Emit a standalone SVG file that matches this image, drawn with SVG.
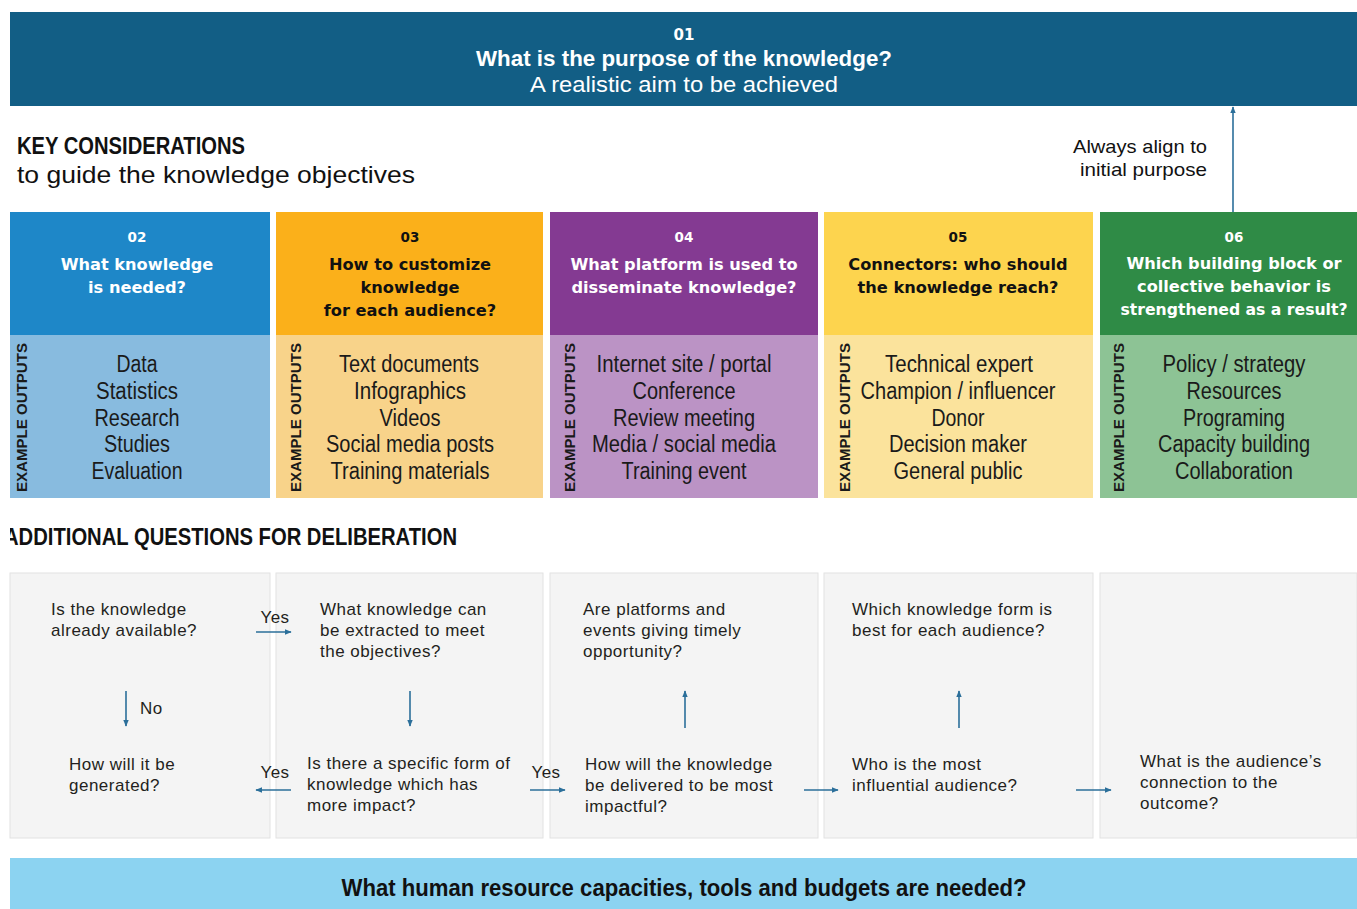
<svg xmlns="http://www.w3.org/2000/svg" width="1357" height="909" viewBox="0 0 1357 909">
<style>
.bg{fill:#ffffff}
.hdr{font-family:"DejaVu Sans","Liberation Sans",sans-serif;font-weight:bold;font-size:16.2px;text-anchor:middle}
.num{font-family:"DejaVu Sans","Liberation Sans",sans-serif;font-weight:bold;font-size:13.5px;text-anchor:middle}
.item{font-family:"Liberation Sans",sans-serif;font-size:23px;text-anchor:middle;fill:#1a1a1a}
.ex{font-family:"Liberation Sans",sans-serif;font-weight:bold;font-size:15px;fill:#1a1a1a}
.q{font-family:"Liberation Sans",sans-serif;font-size:17px;letter-spacing:0.5px;fill:#231f20}
.cond{font-family:"Liberation Sans",sans-serif;fill:#111}
.w{fill:#ffffff}
.k{fill:#111111}
.panel{fill:#f4f4f4;stroke:#e2e2e2;stroke-width:1}
.conn{stroke:#2b6f9a;stroke-width:1.6;fill:none;marker-end:url(#ah)}
</style>
<defs>
<marker id="ah" viewBox="0 0 10 10" refX="9" refY="5" markerWidth="7" markerHeight="7" orient="auto" markerUnits="userSpaceOnUse">
<path d="M0,1 L10,5 L0,9 z" fill="#2b6f9a"/>
</marker>
<clipPath id="clipAdd"><rect x="10" y="500" width="1347" height="60"/></clipPath>
</defs>
<rect class="bg" x="0" y="0" width="1357" height="909"/>

<g id="n01">
<rect x="10" y="12" width="1347" height="94" fill="#125e85"/>
<text x="684" y="40" class="num w" style="font-size:15px">01</text>
<text x="684" y="66" class="cond w" font-weight="bold" font-size="22" text-anchor="middle" textLength="416" lengthAdjust="spacingAndGlyphs">What is the purpose of the knowledge?</text>
<text x="684" y="92" class="cond w" font-size="22" text-anchor="middle" textLength="308" lengthAdjust="spacingAndGlyphs">A realistic aim to be achieved</text>
</g>

<g id="keyConsiderations">
<text x="17" y="154" class="cond" font-weight="bold" font-size="24" textLength="228" lengthAdjust="spacingAndGlyphs">KEY CONSIDERATIONS</text>
<text x="17" y="183" class="cond" font-size="24" textLength="398" lengthAdjust="spacingAndGlyphs">to guide the knowledge objectives</text>
</g>

<g id="alignLabel">
<text x="1207" y="153" class="cond" font-size="18.5" text-anchor="end" textLength="134" lengthAdjust="spacingAndGlyphs">Always align to</text>
<text x="1207" y="176" class="cond" font-size="18.5" text-anchor="end" textLength="127" lengthAdjust="spacingAndGlyphs">initial purpose</text>
</g>

<g id="n02">
<rect x="10" y="212" width="260" height="123" fill="#1e87c8"/>
<rect x="10" y="335" width="260" height="163" fill="#88bbdf"/>
<text x="137" y="242" class="num w">02</text>
<text x="137" y="270" class="hdr w">What knowledge</text>
<text x="137" y="293" class="hdr w">is needed?</text>
<text class="ex" transform="translate(27,492) rotate(-90)" textLength="149" lengthAdjust="spacingAndGlyphs">EXAMPLE OUTPUTS</text>
<text x="137" y="372" class="item" textLength="41" lengthAdjust="spacingAndGlyphs">Data</text>
<text x="137" y="399" class="item" textLength="82" lengthAdjust="spacingAndGlyphs">Statistics</text>
<text x="137" y="426" class="item" textLength="85" lengthAdjust="spacingAndGlyphs">Research</text>
<text x="137" y="452" class="item" textLength="66" lengthAdjust="spacingAndGlyphs">Studies</text>
<text x="137" y="479" class="item" textLength="91" lengthAdjust="spacingAndGlyphs">Evaluation</text>
</g>

<g id="n03">
<rect x="276" y="212" width="267" height="123" fill="#fbb01a"/>
<rect x="276" y="335" width="267" height="163" fill="#f8d38a"/>
<text x="410" y="242" class="num k">03</text>
<text x="410" y="270" class="hdr k">How to customize</text>
<text x="410" y="293" class="hdr k">knowledge</text>
<text x="410" y="316" class="hdr k">for each audience?</text>
<text class="ex" transform="translate(301,492) rotate(-90)" textLength="149" lengthAdjust="spacingAndGlyphs">EXAMPLE OUTPUTS</text>
<text x="409" y="372" class="item" textLength="140" lengthAdjust="spacingAndGlyphs">Text documents</text>
<text x="410" y="399" class="item" textLength="112" lengthAdjust="spacingAndGlyphs">Infographics</text>
<text x="410" y="426" class="item" textLength="61" lengthAdjust="spacingAndGlyphs">Videos</text>
<text x="410" y="452" class="item" textLength="168" lengthAdjust="spacingAndGlyphs">Social media posts</text>
<text x="410" y="479" class="item" textLength="159" lengthAdjust="spacingAndGlyphs">Training materials</text>
</g>

<g id="n04">
<rect x="550" y="212" width="268" height="123" fill="#843a92"/>
<rect x="550" y="335" width="268" height="163" fill="#bb93c5"/>
<text x="684" y="242" class="num w">04</text>
<text x="684" y="270" class="hdr w">What platform is used to</text>
<text x="684" y="293" class="hdr w">disseminate knowledge?</text>
<text class="ex" transform="translate(575,492) rotate(-90)" textLength="149" lengthAdjust="spacingAndGlyphs">EXAMPLE OUTPUTS</text>
<text x="684" y="372" class="item" textLength="175" lengthAdjust="spacingAndGlyphs">Internet site / portal</text>
<text x="684" y="399" class="item" textLength="103" lengthAdjust="spacingAndGlyphs">Conference</text>
<text x="684" y="426" class="item" textLength="142" lengthAdjust="spacingAndGlyphs">Review meeting</text>
<text x="684" y="452" class="item" textLength="184" lengthAdjust="spacingAndGlyphs">Media / social media</text>
<text x="684" y="479" class="item" textLength="125" lengthAdjust="spacingAndGlyphs">Training event</text>
</g>

<g id="n05">
<rect x="824" y="212" width="269" height="123" fill="#fdd44e"/>
<rect x="824" y="335" width="269" height="163" fill="#fbe39c"/>
<text x="958" y="242" class="num k">05</text>
<text x="958" y="270" class="hdr k">Connectors: who should</text>
<text x="958" y="293" class="hdr k">the knowledge reach?</text>
<text class="ex" transform="translate(850,492) rotate(-90)" textLength="149" lengthAdjust="spacingAndGlyphs">EXAMPLE OUTPUTS</text>
<text x="959" y="372" class="item" textLength="148" lengthAdjust="spacingAndGlyphs">Technical expert</text>
<text x="958" y="399" class="item" textLength="195" lengthAdjust="spacingAndGlyphs">Champion / influencer</text>
<text x="958" y="426" class="item" textLength="53" lengthAdjust="spacingAndGlyphs">Donor</text>
<text x="958" y="452" class="item" textLength="138" lengthAdjust="spacingAndGlyphs">Decision maker</text>
<text x="958" y="479" class="item" textLength="129" lengthAdjust="spacingAndGlyphs">General public</text>
</g>

<g id="n06">
<rect x="1100" y="212" width="257" height="123" fill="#2f8b46"/>
<rect x="1100" y="335" width="257" height="163" fill="#8dc395"/>
<text x="1234" y="242" class="num w">06</text>
<text x="1234" y="269" class="hdr w">Which building block or</text>
<text x="1234" y="292" class="hdr w">collective behavior is</text>
<text x="1234" y="315" class="hdr w" textLength="227" lengthAdjust="spacingAndGlyphs">strengthened as a result?</text>
<text class="ex" transform="translate(1124,492) rotate(-90)" textLength="149" lengthAdjust="spacingAndGlyphs">EXAMPLE OUTPUTS</text>
<text x="1234" y="372" class="item" textLength="143" lengthAdjust="spacingAndGlyphs">Policy / strategy</text>
<text x="1234" y="399" class="item" textLength="95" lengthAdjust="spacingAndGlyphs">Resources</text>
<text x="1234" y="426" class="item" textLength="102" lengthAdjust="spacingAndGlyphs">Programing</text>
<text x="1234" y="452" class="item" textLength="152" lengthAdjust="spacingAndGlyphs">Capacity building</text>
<text x="1234" y="479" class="item" textLength="118" lengthAdjust="spacingAndGlyphs">Collaboration</text>
</g>

<g id="additionalTitle" clip-path="url(#clipAdd)">
<text x="4" y="545" class="cond" font-weight="bold" font-size="24" textLength="453" lengthAdjust="spacingAndGlyphs">ADDITIONAL QUESTIONS FOR DELIBERATION</text>
</g>

<g id="panels">
<rect class="panel" x="10" y="573" width="260" height="265"/>
<rect class="panel" x="276" y="573" width="267" height="265"/>
<rect class="panel" x="550" y="573" width="268" height="265"/>
<rect class="panel" x="824" y="573" width="269" height="265"/>
<rect class="panel" x="1100" y="573" width="257" height="265"/>
</g>

<g id="q1">
<text x="51" y="615" class="q">Is the knowledge</text>
<text x="51" y="636" class="q">already available?</text>
</g>
<g id="q2">
<text x="320" y="615" class="q">What knowledge can</text>
<text x="320" y="636" class="q">be extracted to meet</text>
<text x="320" y="657" class="q">the objectives?</text>
</g>
<g id="q3">
<text x="69" y="770" class="q">How will it be</text>
<text x="69" y="791" class="q">generated?</text>
</g>
<g id="q4">
<text x="307" y="769" class="q">Is there a specific form of</text>
<text x="307" y="790" class="q">knowledge which has</text>
<text x="307" y="811" class="q">more impact?</text>
</g>
<g id="q5">
<text x="583" y="615" class="q">Are platforms and</text>
<text x="583" y="636" class="q">events giving timely</text>
<text x="583" y="657" class="q">opportunity?</text>
</g>
<g id="q6">
<text x="585" y="770" class="q">How will the knowledge</text>
<text x="585" y="791" class="q">be delivered to be most</text>
<text x="585" y="812" class="q">impactful?</text>
</g>
<g id="q7">
<text x="852" y="615" class="q">Which knowledge form is</text>
<text x="852" y="636" class="q">best for each audience?</text>
</g>
<g id="q8">
<text x="852" y="770" class="q">Who is the most</text>
<text x="852" y="791" class="q">influential audience?</text>
</g>
<g id="q9">
<text x="1140" y="767" class="q">What is the audience’s</text>
<text x="1140" y="788" class="q">connection to the</text>
<text x="1140" y="809" class="q">outcome?</text>
</g>

<g id="connectors">
<line class="conn" x1="1233" y1="212" x2="1233" y2="107"/>
<line class="conn" x1="256" y1="632" x2="291" y2="632"/>
<line class="conn" x1="126" y1="691" x2="126" y2="726"/>
<line class="conn" x1="410" y1="691" x2="410" y2="726"/>
<line class="conn" x1="291" y1="790" x2="256" y2="790"/>
<line class="conn" x1="530" y1="790" x2="565" y2="790"/>
<line class="conn" x1="685" y1="728" x2="685" y2="691"/>
<line class="conn" x1="804" y1="790" x2="838" y2="790"/>
<line class="conn" x1="959" y1="728" x2="959" y2="691"/>
<line class="conn" x1="1076" y1="790" x2="1111" y2="790"/>
<text x="275" y="623" class="q" text-anchor="middle">Yes</text>
<text x="140" y="714" class="q">No</text>
<text x="275" y="778" class="q" text-anchor="middle">Yes</text>
<text x="546" y="778" class="q" text-anchor="middle">Yes</text>
</g>

<g id="budget">
<rect x="10" y="858" width="1347" height="51" fill="#8cd3f1"/>
<text x="684" y="896" class="cond" font-weight="bold" font-size="23" text-anchor="middle" textLength="685" lengthAdjust="spacingAndGlyphs">What human resource capacities, tools and budgets are needed?</text>
</g>
</svg>
